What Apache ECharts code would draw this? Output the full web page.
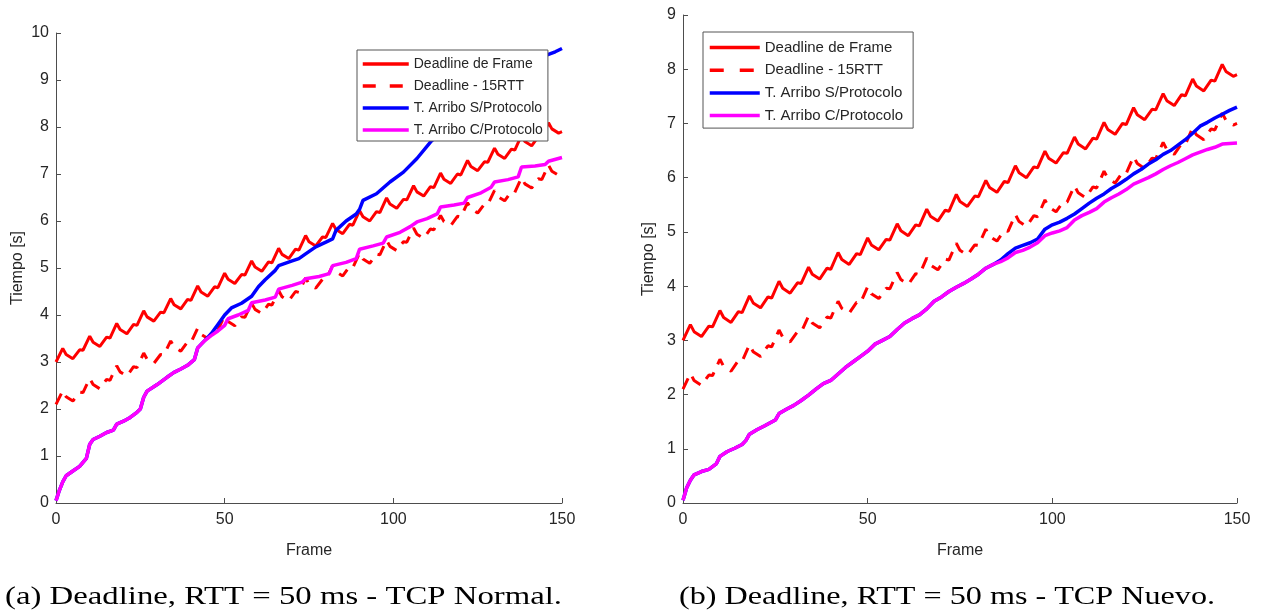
<!DOCTYPE html>
<html><head><meta charset="utf-8">
<script src="https://cdn.jsdelivr.net/npm/echarts@6/dist/echarts.min.js"></script>
<style>html,body{margin:0;padding:0;background:#fff}#c{width:1266px;height:611px}</style>
</head><body><div id="c"></div>
<script>
const seriesNames = ['Deadline de Frame', 'Deadline - 15RTT', 'T. Arribo S/Protocolo', 'T. Arribo C/Protocolo'];
const captions = ['(a) Deadline, RTT = 50 ms - TCP Normal.', '(b) Deadline, RTT = 50 ms - TCP Nuevo.'];
const xTicks = [0, 50, 100, 150];
const yMaxLeft = 10, yMaxRight = 9;

// [frame, seconds] — same deadline in both panels
const deadlineFrame = [[0,3.00],[2,3.29],[3,3.16],[5,3.07],[7,3.26],[8,3.25],
[10,3.55],[11,3.42],[13,3.33],[15,3.53],[16,3.51],
[18,3.82],[19,3.69],[21,3.60],[23,3.80],[24,3.78],
[26,4.09],[27,3.96],[29,3.87],[31,4.06],[32,4.05],
[34,4.35],[35,4.22],[37,4.13],[39,4.33],[40,4.31],
[42,4.62],[43,4.49],[45,4.40],[47,4.60],[48,4.58],
[50,4.89],[51,4.76],[53,4.67],[55,4.86],[56,4.85],
[58,5.15],[59,5.02],[61,4.93],[63,5.13],[64,5.11],
[66,5.42],[67,5.29],[69,5.20],[71,5.40],[72,5.38],
[74,5.69],[75,5.56],[77,5.47],[79,5.66],[80,5.65],
[82,5.95],[83,5.82],[85,5.73],[87,5.93],[88,5.91],
[90,6.22],[91,6.09],[93,6.00],[95,6.20],[96,6.18],
[98,6.49],[99,6.36],[101,6.27],[103,6.46],[104,6.45],
[106,6.75],[107,6.62],[109,6.53],[111,6.73],[112,6.71],
[114,7.02],[115,6.89],[117,6.80],[119,7.00],[120,6.98],
[122,7.29],[123,7.16],[125,7.07],[127,7.26],[128,7.25],
[130,7.55],[131,7.42],[133,7.33],[135,7.53],[136,7.51],
[138,7.82],[139,7.69],[141,7.60],[143,7.80],[144,7.78],
[146,8.09],[147,7.96],[149,7.87],[150,7.90]];

const deadline15RTT = [[0,2.10],[2,2.39],[3,2.26],[5,2.17],[7,2.36],[8,2.35],
[10,2.65],[11,2.52],[13,2.43],[15,2.63],[16,2.61],
[18,2.92],[19,2.79],[21,2.70],[23,2.90],[24,2.88],
[26,3.19],[27,3.06],[29,2.97],[31,3.16],[32,3.15],
[34,3.45],[35,3.32],[37,3.23],[39,3.43],[40,3.41],
[42,3.72],[43,3.59],[45,3.50],[47,3.70],[48,3.68],
[50,3.99],[51,3.86],[53,3.77],[55,3.96],[56,3.95],
[58,4.25],[59,4.12],[61,4.03],[63,4.23],[64,4.21],
[66,4.52],[67,4.39],[69,4.30],[71,4.50],[72,4.48],
[74,4.79],[75,4.66],[77,4.57],[79,4.76],[80,4.75],
[82,5.05],[83,4.92],[85,4.83],[87,5.03],[88,5.01],
[90,5.32],[91,5.19],[93,5.10],[95,5.30],[96,5.28],
[98,5.59],[99,5.46],[101,5.37],[103,5.56],[104,5.55],
[106,5.85],[107,5.72],[109,5.63],[111,5.83],[112,5.81],
[114,6.12],[115,5.99],[117,5.90],[119,6.10],[120,6.08],
[122,6.39],[123,6.26],[125,6.17],[127,6.36],[128,6.35],
[130,6.65],[131,6.52],[133,6.43],[135,6.63],[136,6.61],
[138,6.92],[139,6.79],[141,6.70],[143,6.90],[144,6.88],
[146,7.19],[147,7.06],[149,6.97],[150,7.00]];

// (a) TCP Normal
const arriboSinA = [[0,0.05],[1,0.27],[2,0.45],[3,0.58],[5,0.68],[7,0.78],[9,0.95],[10,1.25],[11,1.35],[13,1.42],[15,1.5],[17,1.55],[18,1.68],[20,1.74],[22,1.82],[24,1.93],[25,2.0],[26,2.25],[27,2.38],[30,2.52],[33,2.68],[35,2.78],[37,2.85],[39,2.93],[41,3.05],[42,3.3],[44,3.45],[46,3.6],[48,3.8],[50,4.0],[52,4.15],[55,4.25],[58,4.4],[60,4.6],[62,4.75],[65,4.95],[66,5.05],[70,5.15],[72,5.2],[74,5.3],[77,5.45],[80,5.55],[82,5.62],[83,5.8],[86,6.0],[89,6.15],[90,6.25],[91,6.44],[95,6.58],[99,6.83],[103,7.04],[107,7.33],[111,7.68],[115,7.95],[120,8.2],[125,8.5],[130,8.75],[135,9.0],[140,9.25],[145,9.52],[148,9.6],[150,9.67]];
const arriboConA = [[0,0.05],[1,0.27],[2,0.45],[3,0.58],[5,0.68],[7,0.78],[9,0.95],[10,1.25],[11,1.35],[13,1.42],[15,1.5],[17,1.55],[18,1.68],[20,1.74],[22,1.82],[24,1.93],[25,2.0],[26,2.25],[27,2.38],[30,2.52],[33,2.68],[35,2.78],[37,2.85],[39,2.93],[41,3.05],[42,3.3],[44,3.45],[46,3.56],[48,3.66],[50,3.78],[51,3.92],[54,4.0],[57,4.1],[58,4.26],[62,4.32],[65,4.38],[66,4.55],[70,4.63],[73,4.7],[74,4.77],[78,4.82],[81,4.88],[82,5.05],[86,5.12],[89,5.2],[90,5.4],[94,5.47],[97,5.53],[98,5.66],[102,5.76],[105,5.88],[107,5.98],[110,6.05],[113,6.15],[114,6.3],[118,6.34],[121,6.38],[122,6.5],[126,6.6],[129,6.72],[130,6.83],[134,6.88],[137,6.94],[138,7.15],[142,7.17],[145,7.2],[146,7.27],[150,7.35]];

// (b) TCP Nuevo
const arriboSinB = [[0,0.05],[1,0.28],[2,0.42],[3,0.52],[5,0.58],[7,0.62],[9,0.72],[10,0.86],[12,0.95],[14,1.01],[16,1.08],[17,1.15],[18,1.27],[20,1.35],[22,1.42],[25,1.53],[26,1.65],[28,1.73],[30,1.8],[32,1.89],[34,1.99],[36,2.1],[38,2.2],[40,2.26],[42,2.38],[44,2.5],[46,2.6],[48,2.7],[50,2.8],[52,2.93],[54,3.0],[56,3.07],[58,3.2],[60,3.32],[62,3.4],[64,3.47],[66,3.58],[68,3.72],[70,3.8],[72,3.9],[74,3.98],[76,4.05],[78,4.13],[80,4.22],[82,4.33],[84,4.4],[86,4.48],[88,4.6],[90,4.7],[92,4.75],[94,4.8],[96,4.87],[98,5.05],[100,5.13],[102,5.18],[104,5.25],[106,5.33],[108,5.43],[110,5.53],[112,5.62],[114,5.7],[116,5.8],[118,5.88],[120,5.97],[122,6.07],[124,6.15],[126,6.25],[128,6.33],[130,6.43],[132,6.5],[134,6.6],[136,6.7],[138,6.82],[140,6.95],[142,7.02],[144,7.1],[146,7.17],[148,7.24],[150,7.3]];
const arriboConB = [[0,0.05],[1,0.28],[2,0.42],[3,0.52],[5,0.58],[7,0.62],[9,0.72],[10,0.86],[12,0.95],[14,1.01],[16,1.08],[17,1.15],[18,1.27],[20,1.35],[22,1.42],[25,1.53],[26,1.65],[28,1.73],[30,1.8],[32,1.89],[34,1.99],[36,2.1],[38,2.2],[40,2.26],[42,2.38],[44,2.5],[46,2.6],[48,2.7],[50,2.8],[52,2.93],[54,3.0],[56,3.07],[58,3.2],[60,3.32],[62,3.4],[64,3.47],[66,3.58],[68,3.72],[70,3.8],[72,3.9],[74,3.98],[76,4.05],[78,4.13],[80,4.22],[82,4.33],[84,4.4],[86,4.45],[88,4.52],[90,4.62],[92,4.66],[94,4.72],[96,4.8],[98,4.93],[100,4.98],[102,5.02],[104,5.08],[106,5.22],[108,5.3],[110,5.36],[112,5.43],[114,5.55],[116,5.63],[118,5.7],[120,5.78],[122,5.88],[124,5.94],[126,6.0],[128,6.07],[130,6.15],[132,6.22],[134,6.28],[136,6.35],[138,6.42],[140,6.47],[142,6.52],[144,6.56],[146,6.62],[148,6.63],[150,6.64]];

const FONT = 'Liberation Sans, Arial, sans-serif';
const TXT = '#262626';
const AX = '#4d4d4d';

function xAx(gi) {
  return {
    type: 'value', gridIndex: gi, min: 0, max: 150, interval: 50,
    name: 'Frame', nameLocation: 'middle', nameGap: 40,
    nameTextStyle: { fontFamily: FONT, fontSize: 16, color: TXT },
    axisLine: { lineStyle: { color: AX, width: 1 } },
    axisTick: { inside: true, length: 5, lineStyle: { color: AX } },
    axisLabel: { fontFamily: FONT, fontSize: 16, color: TXT, margin: 9, showMinLabel: true, showMaxLabel: true },
    splitLine: { show: false }
  };
}
function yAx(gi, max, gap) {
  return {
    type: 'value', gridIndex: gi, min: 0, max: max, interval: 1,
    name: 'Tiempo [s]', nameLocation: 'middle', nameGap: gap,
    nameTextStyle: { fontFamily: FONT, fontSize: 16, color: TXT },
    axisLine: { show: true, lineStyle: { color: AX, width: 1 } },
    axisTick: { show: true, inside: true, length: 5, lineStyle: { color: AX } },
    axisLabel: { fontFamily: FONT, fontSize: 16, color: TXT, margin: 7 },
    splitLine: { show: false }
  };
}
function mkSeries(gi, dl, dr, s, c) {
  const base = { type: 'line', xAxisIndex: gi, yAxisIndex: gi, symbol: 'none', showSymbol: false, animation: false, z: 2 };
  return [
    Object.assign({}, base, { name: seriesNames[0], data: dl, color: '#ff0000', lineStyle: { color: '#ff0000', width: 3 } }),
    Object.assign({}, base, { name: seriesNames[1], data: dr, color: '#ff0000', lineStyle: { color: '#ff0000', width: 3, type: [12, 9] } }),
    Object.assign({}, base, { name: seriesNames[2], data: s, color: '#0000ff', lineStyle: { color: '#0000ff', width: 3.5 } }),
    Object.assign({}, base, { name: seriesNames[3], data: c, color: '#ff00ff', lineStyle: { color: '#ff00ff', width: 3.5 } })
  ];
}
function legend(left, top, fs, iw, gap, pad, dash) {
  return {
    data: [
      { name: seriesNames[0], lineStyle: { width: 3.5, type: 'solid' } },
      { name: seriesNames[1], lineStyle: { width: 3.5, type: dash } },
      { name: seriesNames[2], lineStyle: { width: 3.5, type: 'solid' } },
      { name: seriesNames[3], lineStyle: { width: 3.5, type: 'solid' } }
    ],
    orient: 'vertical', left: left, top: top,
    itemWidth: iw, itemHeight: 14, itemGap: gap, itemTextGap: 5,
    padding: pad, backgroundColor: '#ffffff', borderColor: '#555555', borderWidth: 1, borderRadius: 0,
    itemStyle: { opacity: 0 },
    lineStyle: { width: 3.5 },
    textStyle: { fontFamily: FONT, fontSize: fs, color: TXT },
    selectedMode: false, z: 10
  };
}

// caption width fitting (layout only)
const capFont = '26px "Liberation Serif", "Times New Roman", serif';
const mctx = document.createElement('canvas').getContext('2d');
mctx.font = capFont;
function capScale(txt, target) { return target / mctx.measureText(txt).width; }

const chart = echarts.init(document.getElementById('c'), null, { renderer: 'canvas' });
chart.setOption({
  backgroundColor: '#ffffff',
  animation: false,
  grid: [
    { left: 56, top: 33, width: 506, height: 470 },
    { left: 683, top: 15, width: 554, height: 488 }
  ],
  xAxis: [xAx(0), xAx(1)],
  yAxis: [yAx(0, yMaxLeft, 30), yAx(1, yMaxRight, 26)],
  legend: [
    legend(357, 50, 14, 46, 8, [7, 5, 4, 4], [13, 14]),
    legend(703, 32, 15, 50, 7.7, [8, 10, 5, 5], [14, 16])
  ],
  series: [].concat(
    mkSeries(0, deadlineFrame, deadline15RTT, arriboSinA, arriboConA),
    mkSeries(1, deadlineFrame, deadline15RTT, arriboSinB, arriboConB)
  ),
  graphic: [
    { type: 'text', x: 5, y: 597, scaleX: capScale(captions[0], 557), style: { text: captions[0], font: capFont, fill: '#000', textVerticalAlign: 'middle' } },
    { type: 'text', x: 679, y: 597, scaleX: capScale(captions[1], 536), style: { text: captions[1], font: capFont, fill: '#000', textVerticalAlign: 'middle' } }
  ]
});
</script></body></html>
